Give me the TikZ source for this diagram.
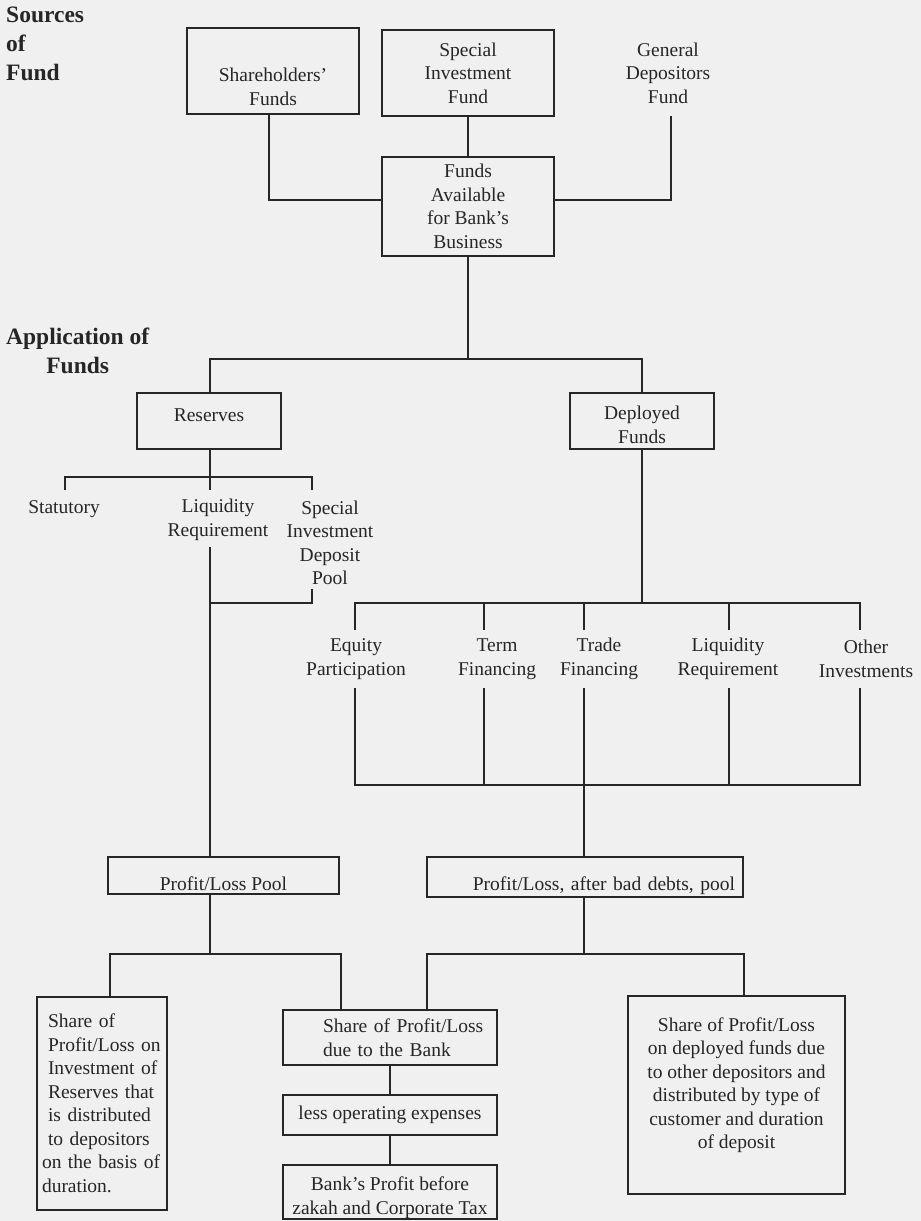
\documentclass[tikz,border=0pt]{standalone}
\usepackage{fontspec}
\setmainfont{Liberation Serif}
\definecolor{ink}{RGB}{38,38,38}
\definecolor{paper}{RGB}{240,240,240}
\begin{document}
\begin{tikzpicture}[x=1pt,y=-1pt,
  every node/.style={text=ink, font=\fontsize{19.5}{23.5}\selectfont},
  box/.style={draw=ink, line width=2pt, align=center},
  lbl/.style={align=center, inner sep=1pt},
  head/.style={font=\fontsize{23.5}{29}\selectfont\bfseries, inner sep=0pt, anchor=north west},
  conn/.style={draw=ink, line width=2pt}]
\fill[paper] (0,0) rectangle (921,1221);
\useasboundingbox (0,0) rectangle (921,1221);

% headings
\node[head, align=left] (src) at (6,7) {Sources\\of\\Fund};
\node[head, align=center] (app) at (6,328) {Application of\\Funds};

% sources
\node[box, minimum width=172, minimum height=86, inner ysep=2pt, text height=70pt, text depth=2pt] (sh) at (273,71) {Shareholders'\\Funds};
\node[box, minimum width=172, minimum height=86] (sif) at (468,73) {Special\\Investment\\Fund};
\node[lbl] (gdf) at (668,73) {General\\Depositors\\Fund};
\node[box, minimum width=172, minimum height=99] (fab) at (468,206.5) {Funds\\Available\\for Bank's\\Business};

% application
\node[box, minimum width=144, minimum height=56, text height=12pt, text depth=12pt] (res) at (209,421) {Reserves};
\node[box, minimum width=144, minimum height=56, inner ysep=2pt, text height=46pt, text depth=2pt] (dep) at (642,421) {Deployed\\Funds};
\node[lbl] (stat) at (64,509) {Statutory};
\node[lbl] (liq) at (218,520) {Liquidity\\Requirement};
\node[lbl] (spool) at (330,543) {Special\\Investment\\Deposit\\Pool};
\node[lbl] (eq) at (356,659) {Equity\\Participation};
\node[lbl] (term) at (497,659) {Term\\Financing};
\node[lbl] (trade) at (599,659) {Trade\\Financing};
\node[lbl] (dliq) at (728,659) {Liquidity\\Requirement};
\node[lbl] (oth) at (866,659) {Other\\Investments};

% pools
\node[box, minimum width=231, minimum height=37, inner ysep=2pt, text height=30pt, text depth=1pt] (plp) at (223.5,875.5) {Profit/Loss Pool};
\node[box, minimum width=316, minimum height=40, inner xsep=8pt, inner ysep=2pt, text width=300pt, align=right, text height=28pt, text depth=2pt] (plbd) at (585,877) {Profit/Loss, after bad debts, pool};

% distribution
\node[box, minimum width=130, minimum height=213, inner xsep=2pt, text width=126pt, align=left] (lsh) at (102,1103.5)
  {\hspace*{9pt}Share of\\\hspace*{9pt}Profit/Loss on\\\hspace*{9pt}Investment of\\\hspace*{9pt}Reserves that\\\hspace*{9pt}is distributed\\\hspace*{9pt}to depositors\\\hspace*{3pt}on the basis of\\\hspace*{3pt}duration.};
\node[box, minimum width=214, minimum height=55, inner xsep=2pt, text width=210pt, align=left] (bank) at (390,1037.5)
  {\hspace*{38pt}Share of Profit/Loss\\\hspace*{38pt}due to the Bank};
\node[box, minimum width=214, minimum height=40] (less) at (390,1115) {less operating expenses};
\node[box, minimum width=214, minimum height=54, inner ysep=2pt, text height=46pt, text depth=2pt] (bpbt) at (390,1192) {Bank's Profit before\\zakah and Corporate Tax};
\node[box, minimum width=217, minimum height=198] (rsh) at (736.5,1095)
  {Share of Profit/Loss\\on deployed funds due\\to other depositors and\\distributed by type of\\customer and duration\\of deposit\\\mbox{}};

% levels and junction points
\coordinate (L1) at (0,200);
\coordinate (L2) at (0,359);
\coordinate (L3) at (0,477);
\coordinate (L4) at (0,603);
\coordinate (L5) at (0,785);
\coordinate (L6) at (0,954);
\coordinate (s1) at (269,0);
\coordinate (g1) at (671,116);
\coordinate (a1) at (65,490);
\coordinate (a2) at (210,490);
\coordinate (a3) at (312,490);
\coordinate (b1) at (210,547);
\coordinate (b2) at (312,589);
\coordinate (c1) at (355,630);
\coordinate (c2) at (484,630);
\coordinate (c3) at (584,630);
\coordinate (c4) at (729,630);
\coordinate (c5) at (860,630);
\coordinate (d1) at (355,688);
\coordinate (d2) at (484,688);
\coordinate (d3) at (584,688);
\coordinate (d4) at (729,688);
\coordinate (d5) at (860,688);
\coordinate (xA) at (110,0);
\coordinate (xB) at (341,0);
\coordinate (xC) at (427,0);
\coordinate (xD) at (744,0);

% connectors
\draw[conn] (sh.south -| s1) |- (fab.west |- L1);
\draw[conn] (g1) |- (fab.east |- L1);
\draw[conn] (sif.south) -- (fab.north);
\draw[conn] (fab.south) -- (fab.south |- L2);
\draw[conn] (res.north -| a2) |- (fab.south |- L2) -| (dep.north);
\draw[conn] (a1) |- (a3 |- L3) -- (a3);
\draw[conn] (res.south -| a2) -- (a2);
\draw[conn] (b1) -- (plp.north -| b1);
\draw[conn] (b2) |- (b1 |- L4);
\draw[conn] (dep.south) -- (dep.south |- L4);
\draw[conn] (c1) |- (c5 |- L4) -- (c5);
\foreach \c in {c2,c3,c4} \draw[conn] (\c) -- (\c |- L4);
\draw[conn] (d1) |- (d5 |- L5) -- (d5);
\foreach \d in {d2,d4} \draw[conn] (\d) -- (\d |- L5);
\draw[conn] (d3) -- (plbd.north -| d3);
\draw[conn] (plp.south -| b1) -- (b1 |- L6);
\draw[conn] (lsh.north -| xA) |- (xB |- L6) -- (bank.north -| xB);
\draw[conn] (plbd.south -| d3) -- (d3 |- L6);
\draw[conn] (bank.north -| xC) |- (xD |- L6) -- (rsh.north -| xD);
\draw[conn] (bank.south) -- (less.north);
\draw[conn] (less.south) -- (bpbt.north);
\end{tikzpicture}
\end{document}
